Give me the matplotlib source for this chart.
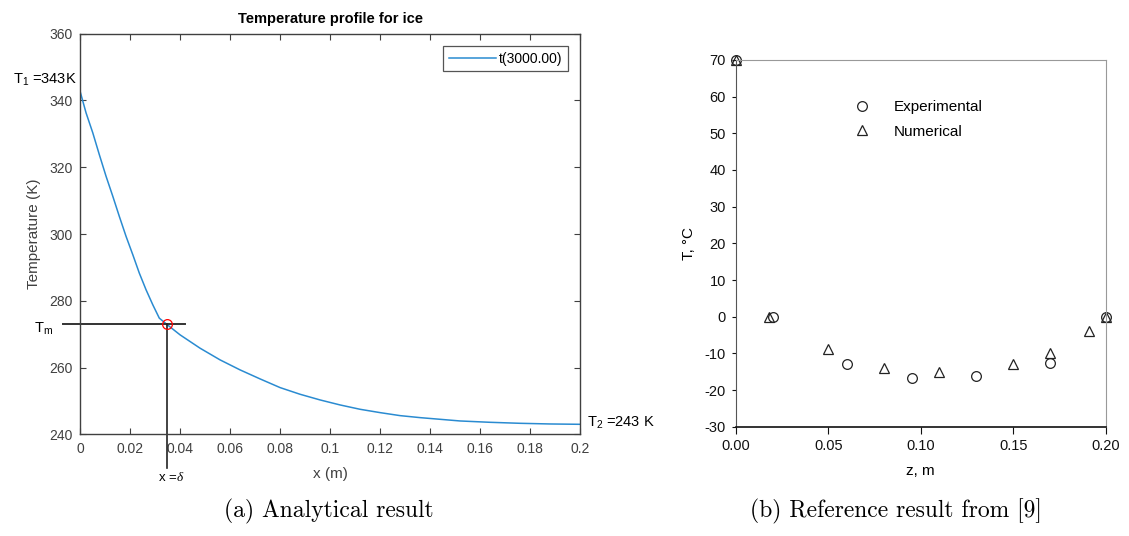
import numpy as np
import matplotlib
matplotlib.use("Agg")
import matplotlib.pyplot as plt

plt.rcParams['font.family'] = ['Liberation Sans', 'DejaVu Sans']
plt.rcParams['mathtext.fontset'] = 'custom'
plt.rcParams['mathtext.rm'] = 'Liberation Sans'
plt.rcParams['mathtext.it'] = 'Liberation Serif:italic'
plt.rcParams['axes.unicode_minus'] = False

# (a) analytical temperature profile
x_pos = [0.0, 0.0024, 0.0051, 0.0077, 0.0104, 0.0131, 0.0157, 0.0184, 0.0211,
         0.0237, 0.0264, 0.0291, 0.0317, 0.0346, 0.040, 0.048, 0.056, 0.064,
         0.072, 0.080, 0.088, 0.096, 0.104, 0.112, 0.120, 0.128, 0.136, 0.144,
         0.152, 0.164, 0.176, 0.188, 0.2]
t_profile = [342.8, 336.3, 330.3, 323.8, 317.3, 311.3, 305.3, 299.3, 293.8,
             288.3, 283.3, 278.8, 274.8, 273.0, 269.8, 265.8, 262.3, 259.3,
             256.6, 254.0, 252.0, 250.3, 248.8, 247.5, 246.5, 245.6, 245.0, 244.5,
             244.0, 243.6, 243.3, 243.1, 243.0]
legend_label = "t(3000.00)"
delta = 0.0346
t_melt = 273.0
x_ticks = [0, 0.02, 0.04, 0.06, 0.08, 0.1, 0.12, 0.14, 0.16, 0.18, 0.2]
x_tick_labels = ['0', '0.02', '0.04', '0.06', '0.08', '0.1', '0.12', '0.14', '0.16', '0.18', '0.2']
y_ticks = [240, 260, 280, 300, 320, 340, 360]

# (b) reference result
z_exp = [0.0, 0.02, 0.06, 0.095, 0.13, 0.17, 0.2]
t_exp = [70, 0, -12.8, -16.7, -16.1, -12.6, 0]
z_num = [0.0, 0.018, 0.05, 0.08, 0.11, 0.15, 0.17, 0.191, 0.2]
t_num = [70, 0, -8.8, -14.0, -15.0, -13.0, -10.0, -3.8, 0]
z_ticks = [0.0, 0.05, 0.10, 0.15, 0.20]
z_tick_labels = ['0.00', '0.05', '0.10', '0.15', '0.20']
t_ticks = [-30, -20, -10, 0, 10, 20, 30, 40, 50, 60, 70]

fig = plt.figure(figsize=(11.29, 5.36), dpi=100)

# ---- left panel ----
grey = '#404040'
ax1 = fig.add_axes([0.0709, 0.1897, 0.4429, 0.7474])
ax1.plot(x_pos, t_profile, color='#2a8bd1', lw=1.1, label=legend_label)
ax1.plot([-0.0068, 0.042], [t_melt, t_melt], color='#333333', lw=1.4, clip_on=False)
ax1.plot([delta, delta], [t_melt, 229.9], color='#222222', lw=1.2, clip_on=False)
ax1.plot([delta], [t_melt], 'o', mfc='none', mec='red', ms=7, mew=0.9)
ax1.set_xlim(0, 0.2)
ax1.set_ylim(240, 360)
ax1.set_xticks(x_ticks)
ax1.set_xticklabels(x_tick_labels)
ax1.set_yticks(y_ticks)
ax1.tick_params(direction='in', top=True, right=True, length=4, width=0.8,
                colors=grey, labelsize=10, pad=5.5)
for s in ax1.spines.values():
    s.set_color(grey)
    s.set_linewidth(1.0)
ax1.set_title('Temperature profile for ice', fontsize=10.5, fontweight='bold', pad=8)
ax1.set_xlabel('x (m)', fontsize=11, color=grey, labelpad=8)
ax1.set_ylabel('Temperature (K)', fontsize=11, color=grey, labelpad=6)
leg = ax1.legend(loc='upper right', fontsize=10, handlelength=3.4, handletextpad=0.2,
                 borderaxespad=0.9, fancybox=False, framealpha=1)
leg.get_frame().set_edgecolor('#555555')
leg.get_frame().set_linewidth(0.9)

ax1.text(-0.0012, 346.3, 'T$_1$ =343K', ha='right', va='center', fontsize=10.5, clip_on=False)
ax1.text(-0.0108, 271.5, 'T$_\\mathrm{m}$', ha='right', va='center', fontsize=10.5, clip_on=False)
ax1.text(0.0364, 227.2, 'x =$\\mathit{\\delta}$', ha='center', va='center', fontsize=9.5, clip_on=False)
ax1.text(0.2028, 243.3, 'T$_2$ =243 K', ha='left', va='center', fontsize=10.5, clip_on=False)

# ---- right panel ----
ax2 = fig.add_axes([0.6516, 0.2039, 0.3280, 0.6842])
ax2.plot(z_exp, t_exp, 'o', mfc='none', mec='#222222', ms=7, mew=0.9,
         clip_on=False, label='Experimental')
ax2.plot(z_num, t_num, '^', mfc='none', mec='#222222', ms=6.5, mew=0.9,
         clip_on=False, label='Numerical')
ax2.set_xlim(0, 0.2)
ax2.set_ylim(-30, 70)
ax2.set_xticks(z_ticks)
ax2.set_xticklabels(z_tick_labels)
ax2.set_yticks(t_ticks)
ax2.tick_params(axis='x', direction='out', length=5, width=0.8, labelsize=10.5,
                colors='#111111', pad=4)
ax2.tick_params(axis='y', direction='out', length=3, width=0.8, labelsize=10.5,
                colors='#111111', pad=4)
ax2.spines['left'].set_color('#555555')
ax2.spines['bottom'].set_color('#111111')
ax2.spines['bottom'].set_linewidth(1.2)
ax2.spines['top'].set_color('#999999')
ax2.spines['right'].set_color('#999999')
ax2.spines['top'].set_linewidth(0.8)
ax2.spines['right'].set_linewidth(0.8)
ax2.set_xlabel('z, m', fontsize=11, labelpad=8)
ax2.set_ylabel('T, °C', fontsize=11, labelpad=6)
ax2.legend(loc='upper left', bbox_to_anchor=(0.3006, 0.8905), frameon=False,
           fontsize=11, borderpad=0, handlelength=2.0, handletextpad=1.03,
           labelspacing=0.68, borderaxespad=0)

# captions
fig.text(329 / 1129, 1 - 511 / 536, '(a) Analytical result', ha='center', va='center',
         fontfamily='cmr10', fontsize=17)
fig.text(896 / 1129, 1 - 511 / 536, '(b) Reference result from [9]', ha='center', va='center',
         fontfamily='cmr10', fontsize=17)

fig.savefig('out.png', dpi=100)
